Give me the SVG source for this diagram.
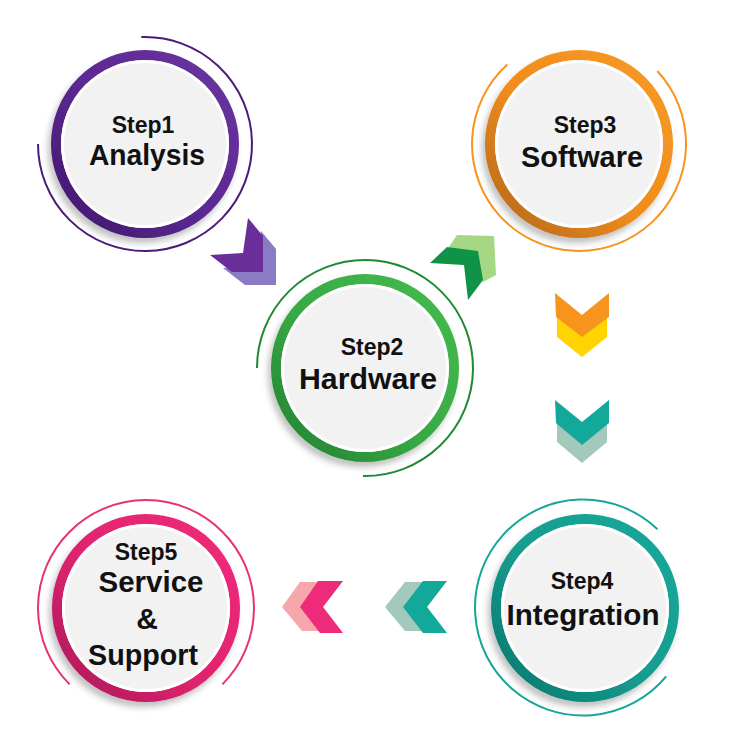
<svg xmlns="http://www.w3.org/2000/svg" width="754" height="752" viewBox="0 0 754 752">
<defs>
<style>
.arc{fill:none;stroke-width:2}
.ring{fill:none;stroke-width:10}
.rim{fill:#ffffff}
.disc{fill:#f2f2f3}
.st{font-family:"Liberation Sans",Arial,sans-serif;font-weight:bold;font-size:23px;fill:#111;text-anchor:middle}
.tt{font-family:"Liberation Sans",Arial,sans-serif;font-weight:bold;font-size:30px;fill:#111;text-anchor:middle}
</style>
<filter id="sh" x="-20%" y="-20%" width="140%" height="140%">
<feDropShadow dx="-3" dy="5" stdDeviation="3" flood-color="#000" flood-opacity="0.25"/>
</filter>
<linearGradient id="gP" x1="1" y1="0" x2="0" y2="1"><stop offset="0" stop-color="#6a34a0"/><stop offset="0.55" stop-color="#5a2890"/><stop offset="1" stop-color="#3f176c"/></linearGradient>
<linearGradient id="gG" x1="1" y1="0" x2="0" y2="1"><stop offset="0" stop-color="#45bb4f"/><stop offset="0.55" stop-color="#37a944"/><stop offset="1" stop-color="#237f31"/></linearGradient>
<linearGradient id="gO" x1="1" y1="0" x2="0" y2="1"><stop offset="0" stop-color="#f89a24"/><stop offset="0.55" stop-color="#ef8c1c"/><stop offset="1" stop-color="#b0651a"/></linearGradient>
<linearGradient id="gT" x1="1" y1="0" x2="0" y2="1"><stop offset="0" stop-color="#1aa99a"/><stop offset="0.55" stop-color="#139c8e"/><stop offset="1" stop-color="#0c766b"/></linearGradient>
<linearGradient id="gK" x1="1" y1="0" x2="0" y2="1"><stop offset="0" stop-color="#ef2b7c"/><stop offset="0.55" stop-color="#e1236f"/><stop offset="1" stop-color="#a8195a"/></linearGradient>
</defs>
<rect width="754" height="752" fill="#ffffff"/>

<g id="connectors">
  <g id="c1">
    <polygon fill="#8b7ac4" points="261,231 276,249 276,285 245,285 223,268 256,266"/>
    <polygon fill="#6a2e9b" points="248,218 263,236 263,272 232,272 210,255 243,253"/>
  </g>
  <g id="c2">
    <polygon fill="#a6d785" points="457,235 494,236 496,275 483,282 470,262 449,247"/>
    <polygon fill="#0f9447" points="430,263 447,247 478,251 483,280 468,300 464,265"/>
  </g>
  <g id="c3">
    <polygon fill="#ffd400" points="557,314 582,336 607,314 607,337 582,357 557,337"/>
    <polygon fill="#f7941d" points="555,293 582,315 609,293 609,317 582,337 556,317"/>
  </g>
  <g id="c4">
    <polygon fill="#a2c9bb" points="557,419 582,441 607,419 607,442 582,463 557,442"/>
    <polygon fill="#12a89a" points="555,400 582,422 609,400 609,423 582,445 556,423"/>
  </g>
  <g id="c5">
    <polygon fill="#a2c9bb" points="405,582 428,582 408,607 428,631 405,631 385,607"/>
    <polygon fill="#12a89a" points="423,581 447,581 427,607 447,633 423,633 403,607"/>
  </g>
  <g id="c6">
    <polygon fill="#f5a7ab" points="300,582 325,582 305,607 325,631 302,631 282,607"/>
    <polygon fill="#ee2a7b" points="318,581 343,581 323,607 343,633 320,633 300,607"/>
  </g>
</g>

<g id="step1">
  <path class="arc" stroke="#4b1b7a" d="M141.3,37.1 A107,107 0 1 1 38,144"/>
  <g filter="url(#sh)">
    <circle class="ring" stroke="url(#gP)" cx="145" cy="144" r="89"/>
  </g>
  <circle class="rim" cx="145" cy="144" r="84"/>
  <circle class="disc" cx="145" cy="144" r="81"/>
  <text class="st" x="143" y="133">Step1</text>
  <text class="tt" x="147" y="165" textLength="116" lengthAdjust="spacingAndGlyphs">Analysis</text>
</g>

<g id="step2">
  <path class="arc" stroke="#1e8a35" d="M257,368 A108,108 0 1 1 363,476"/>
  <g filter="url(#sh)">
    <circle class="ring" stroke="url(#gG)" cx="365" cy="368" r="89"/>
  </g>
  <circle class="rim" cx="365" cy="368" r="84"/>
  <circle class="disc" cx="365" cy="368" r="81"/>
  <text class="st" x="372" y="355">Step2</text>
  <text class="tt" x="368" y="389" textLength="138" lengthAdjust="spacingAndGlyphs">Hardware</text>
</g>

<g id="step3">
  <path class="arc" stroke="#f7941d" d="M657.3,71 A107,107 0 1 1 507.4,64.5"/>
  <g filter="url(#sh)">
    <circle class="ring" stroke="url(#gO)" cx="579" cy="144" r="89"/>
  </g>
  <circle class="rim" cx="579" cy="144" r="84"/>
  <circle class="disc" cx="579" cy="144" r="81"/>
  <text class="st" x="585" y="133">Step3</text>
  <text class="tt" x="582" y="167" textLength="122" lengthAdjust="spacingAndGlyphs">Software</text>
</g>

<g id="step4">
  <path class="arc" stroke="#17a598" d="M657.5,529.3 A108,108 0 1 0 666.2,676.4"/>
  <g filter="url(#sh)">
    <circle class="ring" stroke="url(#gT)" cx="585" cy="608" r="89"/>
  </g>
  <circle class="rim" cx="585" cy="608" r="84"/>
  <circle class="disc" cx="585" cy="608" r="81"/>
  <text class="st" x="582" y="589">Step4</text>
  <text class="tt" x="583" y="625" textLength="153" lengthAdjust="spacingAndGlyphs">Integration</text>
</g>

<g id="step5">
  <path class="arc" stroke="#e8336f" d="M69.6,684.4 A108,108 0 1 1 222.4,684.4"/>
  <g filter="url(#sh)">
    <circle class="ring" stroke="url(#gK)" cx="146" cy="608" r="89"/>
  </g>
  <circle class="rim" cx="146" cy="608" r="84"/>
  <circle class="disc" cx="146" cy="608" r="81"/>
  <text class="st" x="146" y="560">Step5</text>
  <text class="tt" x="151" y="592" textLength="105" lengthAdjust="spacingAndGlyphs">Service</text>
  <text class="tt" x="147" y="629">&amp;</text>
  <text class="tt" x="143" y="665" textLength="110" lengthAdjust="spacingAndGlyphs">Support</text>
</g>
</svg>
